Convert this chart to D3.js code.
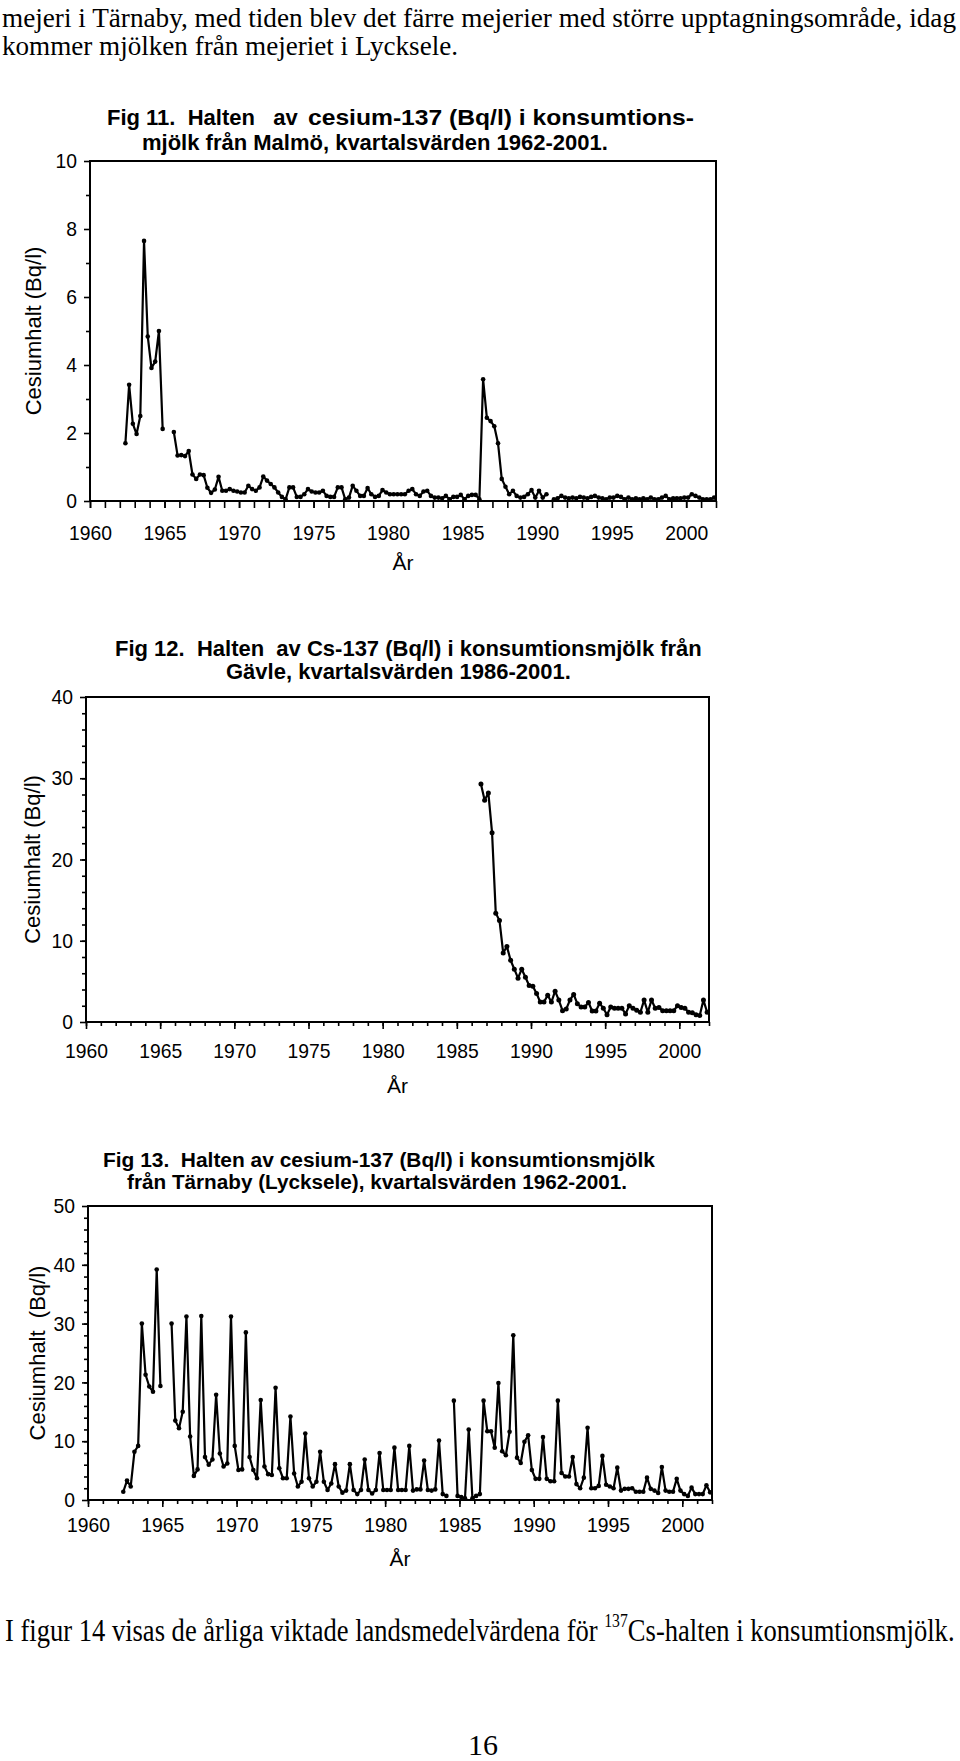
<!DOCTYPE html>
<html>
<head>
<meta charset="utf-8">
<script src="https://cdn.jsdelivr.net/npm/d3@7"></script>
<style>
  body { margin: 0; background: #fff; }
  svg { display: block; }
  text { fill: #000; }
</style>
</head>
<body>
<svg id="page" width="960" height="1761"></svg>
<script>
// quarterly values, first point = mid quarter of start
const malmoStart = 1962.375;
const malmoValues = [
  1.7, 3.42, 2.27, 1.97, 2.5, 7.65, 4.84, 3.91, 4.1, 5.0,
  2.12, null, null, 2.03, 1.34, 1.35, 1.32, 1.47, 0.78, 0.65,
  0.78, 0.76, 0.39, 0.24, 0.34, 0.71, 0.3, 0.3, 0.35, 0.3,
  0.28, 0.25, 0.25, 0.45, 0.35, 0.3, 0.4, 0.72, 0.6, 0.5,
  0.4, 0.25, 0.12, 0.05, 0.4, 0.4, 0.12, 0.12, 0.2, 0.35,
  0.28, 0.25, 0.25, 0.3, 0.15, 0.12, 0.12, 0.4, 0.4, 0.05,
  0.1, 0.45, 0.3, 0.15, 0.15, 0.38, 0.2, 0.12, 0.15, 0.32,
  0.25, 0.2, 0.2, 0.2, 0.2, 0.2, 0.3, 0.35, 0.2, 0.15,
  0.28, 0.3, 0.15, 0.1, 0.1, 0.08, 0.15, 0.05, 0.12, 0.12,
  0.18, 0.05, 0.15, 0.18, 0.18, 0.05, 3.58, 2.45, 2.35, 2.2,
  1.7, 0.65, 0.42, 0.2, 0.3, 0.15, 0.1, 0.12, 0.2, 0.32,
  0.1, 0.3, 0.1, 0.2, null, 0.05, 0.08, 0.15, 0.1, 0.08,
  0.1, 0.08, 0.12, 0.1, 0.08, 0.12, 0.15, 0.1, 0.08, 0.05,
  0.1, 0.1, 0.15, 0.12, 0.05, 0.1, 0.05, 0.08, 0.05, 0.08,
  0.05, 0.1, 0.05, 0.05, 0.1, 0.15, 0.05, 0.08, 0.08, 0.08,
  0.1, 0.1, 0.2, 0.15, 0.1, 0.05, 0.05, 0.05, 0.1
];

const gavleStart = 1986.625;
const gavleValues = [
  29.3, 27.3, 28.2, 23.3, 13.4, 12.5, 8.5, 9.3, 7.6, 6.5,
  5.4, 6.5, 5.5, 4.5, 4.4, 3.5, 2.45, 2.45, 3.3, 2.45,
  3.8, 2.7, 1.4, 1.6, 2.7, 3.4, 2.25, 1.85, 1.85, 2.4,
  1.35, 1.35, 2.3, 1.7, 0.9, 1.85, 1.7, 1.7, 1.7, 1.0,
  2.0, 1.7, 1.45, 1.2, 2.7, 1.2, 2.7, 1.7, 1.8, 1.4,
  1.4, 1.4, 1.4, 2.0, 1.8, 1.7, 1.2, 1.15, 0.9, 0.8,
  2.7, 1.2
];

const tarnabyStart = 1962.375;
const tarnabyValues = [
  1.4, 3.3, 2.3, 8.2, 9.2, 30.0, 21.3, 19.3, 18.4, 39.2,
  19.4, null, null, 30.0, 13.5, 12.2, 15.0, 31.2, 10.8, 4.1,
  5.2, 31.3, 7.3, 6.0, 6.9, 17.9, 7.9, 5.7, 6.2, 31.2,
  9.2, 5.1, 5.2, 28.5, 7.3, 5.1, 3.7, 17.0, 5.7, 4.4,
  4.25, 19.1, 5.4, 3.7, 3.7, 14.2, 4.5, 2.3, 3.1, 11.3,
  3.7, 2.3, 3.1, 8.2, 3.1, 1.7, 2.8, 6.1, 2.3, 1.25,
  1.6, 6.1, 1.7, 1.0, 1.7, 6.9, 1.7, 1.1, 1.7, 8.0,
  1.7, 1.7, 1.7, 8.9, 1.7, 1.7, 1.7, 9.2, 1.6, 1.8,
  1.8, 6.7, 1.7, 1.6, 1.8, 10.1, 1.0, 0.7, null, 16.9,
  0.7, 0.5, 0.3, 12.0, 0.3, 0.7, 1.0, 16.9, 11.7, 11.7,
  8.9, 19.9, 8.3, 7.6, 11.6, 28.0, 7.2, 6.3, 9.9, 11.0,
  5.1, 3.6, 3.6, 10.7, 3.6, 3.2, 3.2, 16.9, 4.6, 4.0,
  4.0, 7.3, 2.7, 2.0, 3.8, 12.3, 2.0, 2.0, 2.4, 7.5,
  2.6, 2.3, 2.0, 5.5, 1.6, 1.9, 1.9, 2.0, 1.4, 1.4,
  1.4, 3.8, 1.9, 1.6, 1.2, 5.6, 1.6, 1.4, 1.4, 3.6,
  1.6, 1.0, 0.7, 2.1, 1.0, 1.0, 1.0, 2.5, 1.3
];

const yearLabels = [1960, 1965, 1970, 1975, 1980, 1985, 1990, 1995, 2000];
const yearMinor = d3.range(1960, 2003);

const svg = d3.select("#page");
const sans = "'Liberation Sans', Arial, sans-serif";
const serif = "'Liberation Serif', 'Times New Roman', serif";

// the scanned page is a little narrow: squeeze text horizontally
function squeeze(sel, f) {
  sel.each(function () {
    const w = this.getComputedTextLength();
    d3.select(this).attr("textLength", w * f).attr("lengthAdjust", "spacingAndGlyphs");
  });
}

function toPoints(start, values) {
  return values.map((v, i) => ({ t: start + i * 0.25, v: v }));
}

function drawChart(c) {
  const x = d3.scaleLinear().domain([1960, 2002]).range([c.left, c.right]);
  const y = d3.scaleLinear().domain([0, c.yMax]).range([c.bottom, c.top]);
  const g = svg.append("g");

  // title (pieces: [x, y, text, width or null])
  c.title.forEach(p => {
    const t = g.append("text")
      .attr("x", p[0]).attr("y", p[1])
      .attr("font-family", sans).attr("font-size", c.titleSize).attr("font-weight", "bold")
      .style("white-space", "pre")
      .text(p[2]);
    if (p[3]) t.attr("textLength", p[3]).attr("lengthAdjust", "spacingAndGlyphs");
  });

  // minor ticks
  g.append("g")
    .attr("transform", `translate(0,${c.bottom})`)
    .call(d3.axisBottom(x).tickValues(yearMinor).tickSize(c.xMinor).tickFormat(""))
    .call(s => s.select(".domain").remove())
    .selectAll("line").attr("stroke", "#000").attr("stroke-width", 1.6);

  g.append("g")
    .attr("transform", `translate(0,${c.bottom})`)
    .call(d3.axisBottom(x).tickValues(yearLabels).tickSize(7).tickFormat(d3.format("d")))
    .call(s => s.select(".domain").remove())
    .call(s => s.selectAll("line").attr("stroke", "#000").attr("stroke-width", 1.6))
    .call(s => s.selectAll("text")
      .attr("y", c.labelOffset).attr("dy", 0)
      .attr("font-family", sans).attr("font-size", 21).attr("fill", "#000")
      .call(squeeze, 0.92));

  g.append("g")
    .attr("transform", `translate(${c.left},0)`)
    .call(d3.axisLeft(y).tickValues(c.yMinor).tickSize(4).tickFormat(""))
    .call(s => s.select(".domain").remove())
    .selectAll("line").attr("stroke", "#000").attr("stroke-width", 1.6);

  g.append("g")
    .attr("transform", `translate(${c.left},0)`)
    .call(d3.axisLeft(y).tickValues(c.yMajor).tickSize(6).tickPadding(7).tickFormat(d3.format("d")))
    .call(s => s.select(".domain").remove())
    .call(s => s.selectAll("line").attr("stroke", "#000").attr("stroke-width", 1.6))
    .call(s => s.selectAll("text")
      .attr("font-family", sans).attr("font-size", 21).attr("fill", "#000")
      .call(squeeze, 0.92));

  // frame
  g.append("rect")
    .attr("x", c.left).attr("y", c.top)
    .attr("width", c.right - c.left).attr("height", c.bottom - c.top)
    .attr("fill", "none").attr("stroke", "#000").attr("stroke-width", 2);

  // axis titles
  g.append("text")
    .attr("transform", `translate(${c.yLabelX},${(c.top + c.bottom) / 2}) rotate(-90)`)
    .attr("text-anchor", "middle").attr("dy", "0.35em")
    .attr("font-family", sans).attr("font-size", 22)
    .style("white-space", "pre")
    .text(c.yLabel);

  g.append("text")
    .attr("x", (c.left + c.right) / 2).attr("y", c.bottom + c.arOffset)
    .attr("text-anchor", "middle")
    .attr("font-family", sans).attr("font-size", 21)
    .text("År");

  // series
  const pts = toPoints(c.start, c.values);
  const line = d3.line()
    .defined(d => d.v !== null)
    .x(d => x(d.t)).y(d => y(d.v));

  g.append("path")
    .datum(pts)
    .attr("d", line)
    .attr("fill", "none").attr("stroke", "#000").attr("stroke-width", 2.2)
    .attr("stroke-linejoin", "round");

  g.append("g")
    .selectAll("circle")
    .data(pts.filter(d => d.v !== null))
    .join("circle")
    .attr("cx", d => x(d.t)).attr("cy", d => y(d.v))
    .attr("r", c.markerR).attr("fill", "#000");
}

// top paragraph
svg.append("text")
  .attr("x", 2).attr("y", 27)
  .attr("font-family", serif).attr("font-size", 27)
  .attr("textLength", 954).attr("lengthAdjust", "spacingAndGlyphs")
  .text("mejeri i Tärnaby, med tiden blev det färre mejerier med större upptagningsområde, idag");
svg.append("text")
  .attr("x", 2).attr("y", 55)
  .attr("font-family", serif).attr("font-size", 27)
  .attr("textLength", 456).attr("lengthAdjust", "spacingAndGlyphs")
  .text("kommer mjölken från mejeriet i Lycksele.");

drawChart({
  left: 90, right: 716, top: 161, bottom: 501, yMax: 10,
  yMajor: [0, 2, 4, 6, 8, 10], yMinor: [1, 3, 5, 7, 9], xMinor: 7,
  labelOffset: 39, arOffset: 69, yLabelX: 33, markerR: 2.3, titleSize: 22,
  yLabel: "Cesiumhalt (Bq/l)",
  title: [
    [107, 125, "Fig 11.  Halten   av", null],
    [308, 125, "cesium-137 (Bq/l) i konsumtions-", 386],
    [142, 150, "mjölk från Malmö, kvartalsvärden 1962-2001.", null]
  ],
  start: malmoStart, values: malmoValues
});

drawChart({
  left: 86, right: 709, top: 697, bottom: 1022, yMax: 40,
  yMajor: [0, 10, 20, 30, 40], yMinor: d3.range(2, 40, 2), xMinor: 4,
  labelOffset: 36, arOffset: 71, yLabelX: 32, markerR: 2.5, titleSize: 22,
  yLabel: "Cesiumhalt (Bq/l)",
  title: [
    [115, 656, "Fig 12.  Halten  av Cs-137 (Bq/l) i konsumtionsmjölk från", null],
    [226, 679, "Gävle, kvartalsvärden 1986-2001.", null]
  ],
  start: gavleStart, values: gavleValues
});

drawChart({
  left: 88, right: 712, top: 1206, bottom: 1500, yMax: 50,
  yMajor: [0, 10, 20, 30, 40, 50], yMinor: d3.range(2, 50, 2), xMinor: 4,
  labelOffset: 32, arOffset: 66, yLabelX: 37, markerR: 2.3, titleSize: 20,
  yLabel: "Cesiumhalt  (Bq/l)",
  title: [
    [103, 1167, "Fig 13.  Halten av cesium-137 (Bq/l) i konsumtionsmjölk", 552],
    [127, 1189, "från Tärnaby (Lycksele), kvartalsvärden 1962-2001.", 500]
  ],
  start: tarnabyStart, values: tarnabyValues
});

// bottom paragraph: natural flow with superscript, squeezed to the line width
const para = svg.append("g");
const bottom = para.append("text")
  .attr("font-family", serif).attr("font-size", 32);
bottom.append("tspan").text("I figur 14 visas de årliga viktade landsmedelvärdena för ");
bottom.append("tspan").attr("font-size", 19).attr("dy", -14).text("137");
bottom.append("tspan").attr("dy", 14).text("Cs-halten i konsumtionsmjölk.");
const natural = bottom.node().getComputedTextLength();
para.attr("transform", `translate(5,1641) scale(${950 / natural},1)`);

svg.append("text")
  .attr("x", 483).attr("y", 1755)
  .attr("text-anchor", "middle")
  .attr("font-family", serif).attr("font-size", 30)
  .text("16");
</script>
</body>
</html>
